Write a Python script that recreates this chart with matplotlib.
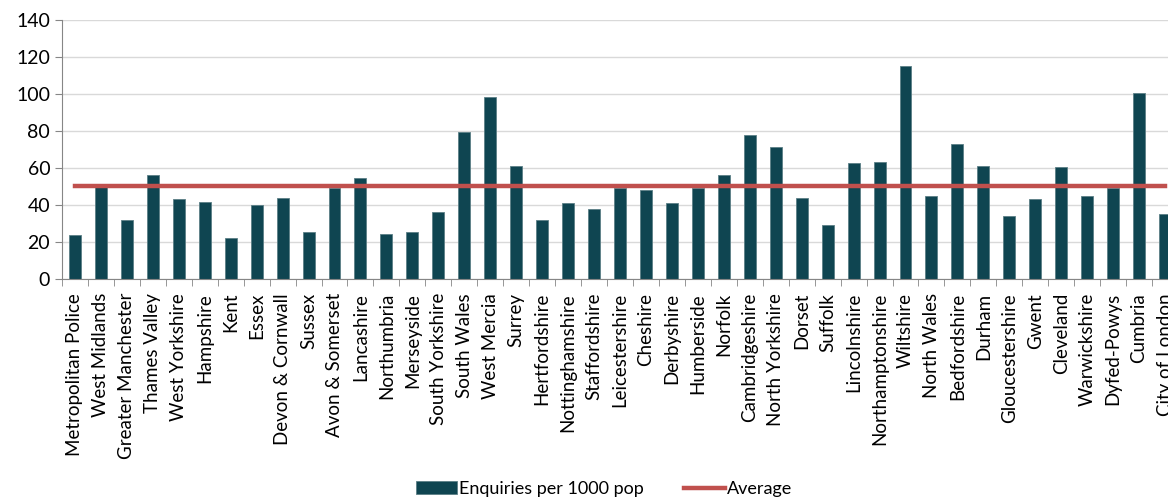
import matplotlib
matplotlib.use("Agg")
import matplotlib.pyplot as plt
import numpy as np

forces = ["Metropolitan Police", "West Midlands", "Greater Manchester", "Thames Valley",
          "West Yorkshire", "Hampshire", "Kent", "Essex", "Devon & Cornwall", "Sussex",
          "Avon & Somerset", "Lancashire", "Northumbria", "Merseyside", "South Yorkshire",
          "South Wales", "West Mercia", "Surrey", "Hertfordshire", "Nottinghamshire",
          "Staffordshire", "Leicestershire", "Cheshire", "Derbyshire", "Humberside",
          "Norfolk", "Cambridgeshire", "North Yorkshire", "Dorset", "Suffolk",
          "Lincolnshire", "Northamptonshire", "Wiltshire", "North Wales", "Bedfordshire",
          "Durham", "Gloucestershire", "Gwent", "Cleveland", "Warwickshire",
          "Dyfed-Powys", "Cumbria", "City of London"]
enquiries = [24, 49.5, 32, 56, 43, 41.7, 22.2, 40, 44, 25.4,
             49, 54.5, 24.5, 25.4, 36, 79.6, 98.3, 61.2, 32, 41,
             37.7, 49, 48.2, 41, 49, 56.3, 78, 71.6, 44, 29.4,
             62.6, 63.5, 115.3, 44.7, 73.1, 61.2, 34.3, 43.3, 60.3, 44.7,
             49.4, 100.7, 35]
average = 50.3

BAR = "#0f4551"
RED = "#c0504d"
plt.rcParams["font.family"] = ["Lato", "DejaVu Sans"]

fig = plt.figure(figsize=(11.68, 4.97), dpi=100)
# axes runs past the right edge, the source picture is cropped there
ax = fig.add_axes([62 / 1168, 1 - 279 / 497, 1116 / 1168, 259 / 497])

x = np.arange(len(forces))
bars = ax.bar(x, enquiries, width=0.46, color=BAR, edgecolor="#5b7f86", linewidth=0.6,
              label="Enquiries per 1000 pop", zorder=2)
line, = ax.plot(x, [average] * len(x), color=RED, lw=3.2, label="Average", zorder=3)

ax.set_xlim(-0.5, len(forces) - 0.5)
ax.set_ylim(0, 140)
ax.set_yticks(range(0, 141, 20))
ax.yaxis.grid(True, color="#d9d9d9", lw=1)
ax.set_axisbelow(True)

ax.set_xticks(x)
ax.set_xticklabels(forces, rotation=90, fontsize=13.5)
ax.set_xticks(np.arange(-0.5, len(forces), 1), minor=True)
ax.tick_params(axis="x", which="major", length=0, pad=10)
ax.tick_params(axis="x", which="minor", length=5, color="#868686")
ax.tick_params(axis="y", length=5, color="#868686", labelsize=14)

for s in ("top", "right"):
    ax.spines[s].set_visible(False)
for s in ("left", "bottom"):
    ax.spines[s].set_color("#868686")

fig.legend([bars, line], ["Enquiries per 1000 pop", "Average"], loc="center",
           bbox_to_anchor=(604 / 1168, 1 - 489 / 497), ncol=2, frameon=False,
           fontsize=13, handlelength=2.3, handletextpad=0.1, columnspacing=2.2)

fig.savefig("out.png", dpi=100)
